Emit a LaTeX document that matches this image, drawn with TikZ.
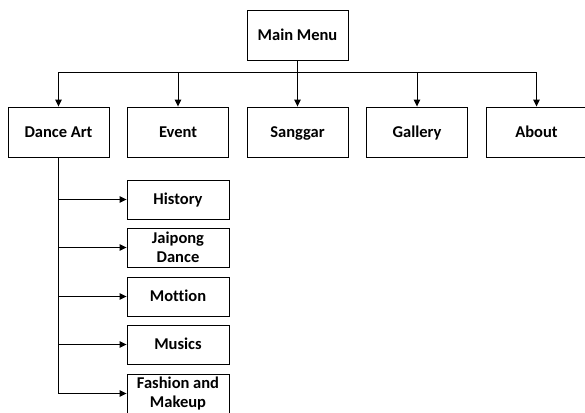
\documentclass[tikz,border=0pt]{standalone}
\usepackage{fontspec}
\setmainfont{Carlito}[Ligatures={NoCommon,NoRare}]
\usetikzlibrary{arrows.meta}
\begin{document}
\begin{tikzpicture}[x=1pt,y=-1pt,
  box/.style={draw, line width=0.9pt, minimum width=101pt, minimum height=50pt, inner sep=0pt, align=center, font=\fontsize{16.5}{19}\selectfont\bfseries},
  one/.style={text height=12.5pt, text depth=2pt},
  sub/.style={box, minimum width=102pt, minimum height=39pt},
  arr/.style={-{Triangle[length=7pt,width=6.5pt]}, line width=0.9pt},
  ln/.style={line width=0.9pt}]
\useasboundingbox (0,0) rectangle (585,412);
\clip (0,0) rectangle (585,412);
\node[box,one] (main) at (297.5,35) {Main Menu};
\node[box,one] (dance) at (58.5,132) {Dance Art};
\node[box,one] (event) at (178,132) {Event};
\node[box,one] (sanggar) at (297.5,132) {Sanggar};
\node[box,one] (gallery) at (417,132) {Gallery};
\node[box,one] (about) at (536.5,132) {About};
\node[sub,one] (history) at (178,199.5) {History};
\node[sub] (jaipong) at (178,247.5) {Jaipong\\Dance};
\node[sub,one] (mottion) at (178,296.5) {Mottion};
\node[sub,one] (musics) at (178,344.5) {Musics};
\node[sub] (fashion) at (178,393.5) {Fashion and\\Makeup};
\coordinate (j) at (297.5,72);
\draw[ln] (main) -- (j);
\draw[arr] (j) -| (dance);
\draw[arr] (j) -| (event);
\draw[arr] (j) -- (sanggar);
\draw[arr] (j) -| (gallery);
\draw[arr] (j) -| (about);
\draw[arr] (dance) |- (history);
\draw[arr] (dance) |- (jaipong);
\draw[arr] (dance) |- (mottion);
\draw[arr] (dance) |- (musics);
\draw[arr] (dance) |- (fashion);
\end{tikzpicture}
\end{document}
